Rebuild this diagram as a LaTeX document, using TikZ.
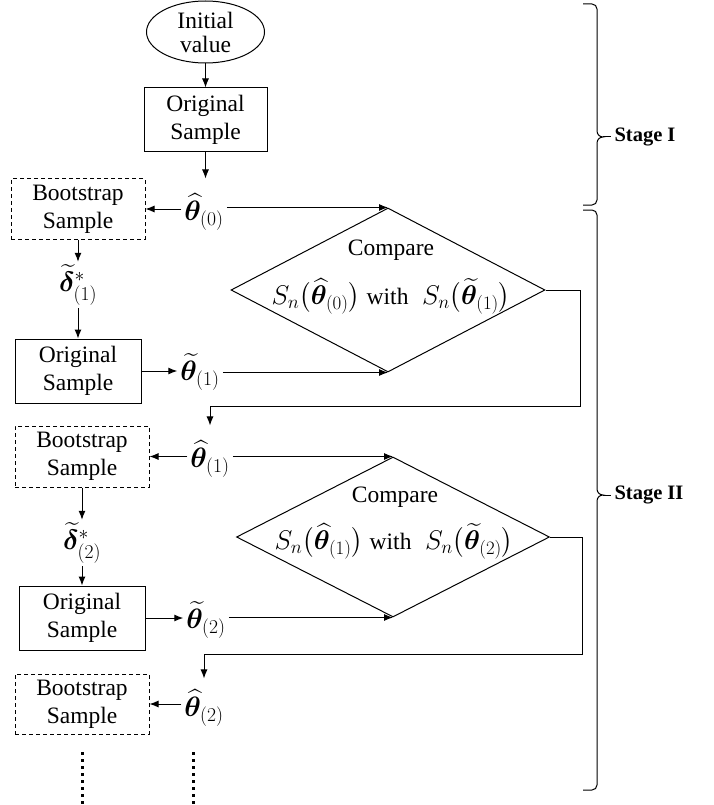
\RequirePackage{fix-cm}
\documentclass[tikz,border=0pt]{standalone}
\usepackage{amsmath}
\usepackage{fontspec}
\setmainfont{Liberation Serif}
\usepackage{bm}
\usetikzlibrary{shapes.geometric,arrows.meta}
\newcommand{\txtsize}{\fontsize{23.5}{28}\selectfont}
\begin{document}
\begin{tikzpicture}[x=1pt,y=-1pt,
  every node/.style={font=\txtsize},
  arr/.style={-{Latex[length=9pt,width=7pt]}, line width=1pt},
  ln/.style={line width=1pt},
  solidbox/.style={draw, line width=1pt, align=center, inner sep=0pt},
  dashbox/.style={draw, dash pattern=on 4pt off 3pt, line width=1pt, align=center, inner sep=0pt},
  lab/.style={inner sep=3pt, font=\fontsize{28}{32}\selectfont},
  frm/.style={font=\fontsize{27}{32}\selectfont},
  dia/.style={draw, diamond, line width=1pt, inner sep=0pt},
  dotline/.style={line width=3pt, dash pattern=on 3pt off 4pt},
  stagelab/.style={anchor=west, font=\fontsize{20.5}{24}\selectfont\bfseries}
]
\useasboundingbox (0,0) rectangle (714,805);

% Stage I
\node[draw, ellipse, line width=1pt, minimum width=118pt, minimum height=62pt, inner sep=0pt, align=center,
  font=\fontsize{23.5}{24}\selectfont] (init) at (205.5,32) {Initial\\value};
\node[solidbox, minimum width=123pt, minimum height=64pt] (orig1) at (205.5,120) {Original\\Sample};

% cycle 1
\node[dashbox, minimum width=134pt, minimum height=60pt] (boot1) at (78,209) {Bootstrap\\Sample};
\node[lab] (th0) at (204,212) {$\widehat{\bm\theta}_{(0)}$};
\node[lab] (del1) at (78,285) {$\widetilde{\bm\delta}^{*}_{(1)}$};
\node[solidbox, minimum width=126pt, minimum height=64pt] (orig2) at (78,371) {Original\\Sample};
\node[lab] (tt1) at (200,372) {$\widetilde{\bm\theta}_{(1)}$};
\node[dia, minimum width=314pt, minimum height=164pt] (dia1) at (388,290) {};
\node (cmp1) at (391,250) {Compare};
\node[frm] (frm1) at (391,296) {$S_n\bigl(\widehat{\bm\theta}_{(0)}\bigr)$\ {\txtsize with}\ \ $S_n\bigl(\widetilde{\bm\theta}_{(1)}\bigr)$};
\coordinate (c1) at (580,406);

% cycle 2
\node[dashbox, minimum width=134pt, minimum height=61pt] (boot2) at (82,456.5) {Bootstrap\\Sample};
\node[lab] (th1) at (210,459) {$\widehat{\bm\theta}_{(1)}$};
\node[lab] (del2) at (82,543) {$\widetilde{\bm\delta}^{*}_{(2)}$};
\node[solidbox, minimum width=126pt, minimum height=64pt] (orig3) at (82,618) {Original\\Sample};
\node[lab] (tt2) at (206,620) {$\widetilde{\bm\theta}_{(2)}$};
\node[dia, minimum width=313pt, minimum height=160pt] (dia2) at (393,537) {};
\node (cmp2) at (395,497) {Compare};
\node[frm] (frm2) at (394,541) {$S_n\bigl(\widehat{\bm\theta}_{(1)}\bigr)$\ {\txtsize with}\ \ $S_n\bigl(\widetilde{\bm\theta}_{(2)}\bigr)$};
\coordinate (c2) at (582,654);

% cycle 3
\node[dashbox, minimum width=134pt, minimum height=60pt] (boot3) at (82,704) {Bootstrap\\Sample};
\node[lab] (th2) at (204,708) {$\widehat{\bm\theta}_{(2)}$};
\coordinate (d1a) at (82,752);
\coordinate (d1b) at (82,805);
\coordinate (d2a) at (193,752);
\coordinate (d2b) at (193,805);

% connectors
\draw[arr] (init) -- (orig1);
\draw[arr, shorten >=12pt] (orig1.south) -- (orig1.south |- th0.north);
\draw[arr] (th0.west |- boot1.east) -- (boot1.east);
\draw[arr] (th0.east |- dia1.north) -- (dia1.north);
\draw[arr] (boot1.south) -- (del1.north);
\draw[arr] (del1.south) -- (orig2.north);
\draw[arr] (orig2.east) -- (tt1.west |- orig2.east);
\draw[arr] (tt1.east |- dia1.south) -- (dia1.south);
\draw[arr, shorten >=12pt] (dia1.east) -| (c1) -| (th1.north);

\draw[arr] (th1.west |- boot2.east) -- (boot2.east);
\draw[arr] (th1.east |- dia2.north) -- (dia2.north);
\draw[arr] (boot2.south) -- (del2.north);
\draw[arr] (del2.south) -- (orig3.north);
\draw[arr] (orig3.east) -- (tt2.west |- orig3.east);
\draw[arr] (tt2.east |- dia2.south) -- (dia2.south);
\draw[arr, shorten >=8pt] (dia2.east) -| (c2) -| (th2.north);

\draw[arr] (th2.west |- boot3.east) -- (boot3.east);
\draw[dotline] (d1a) -- (d1b);
\draw[dotline] (d2a) -- (d2b);

% braces
\draw[ln] (583,4) -- (592,4) to[out=0,in=90] (597,9) -- (597,131)
  to[out=-90,in=180] (603,137) to[out=180,in=90] (597,143) -- (597,200)
  to[out=-90,in=0] (592,205) -- (583,205);
\draw[ln] (603,137) -- (611,137);
\node[stagelab] (s1) at (611,137) {Stage I};

\draw[ln] (583,210) -- (592,210) to[out=0,in=90] (597,215) -- (597,489)
  to[out=-90,in=180] (603,495) to[out=180,in=90] (597,501) -- (597,785)
  to[out=-90,in=0] (592,790) -- (583,790);
\draw[ln] (603,495) -- (611,495);
\node[stagelab] (s2) at (611,495) {Stage II};
\end{tikzpicture}
\end{document}
